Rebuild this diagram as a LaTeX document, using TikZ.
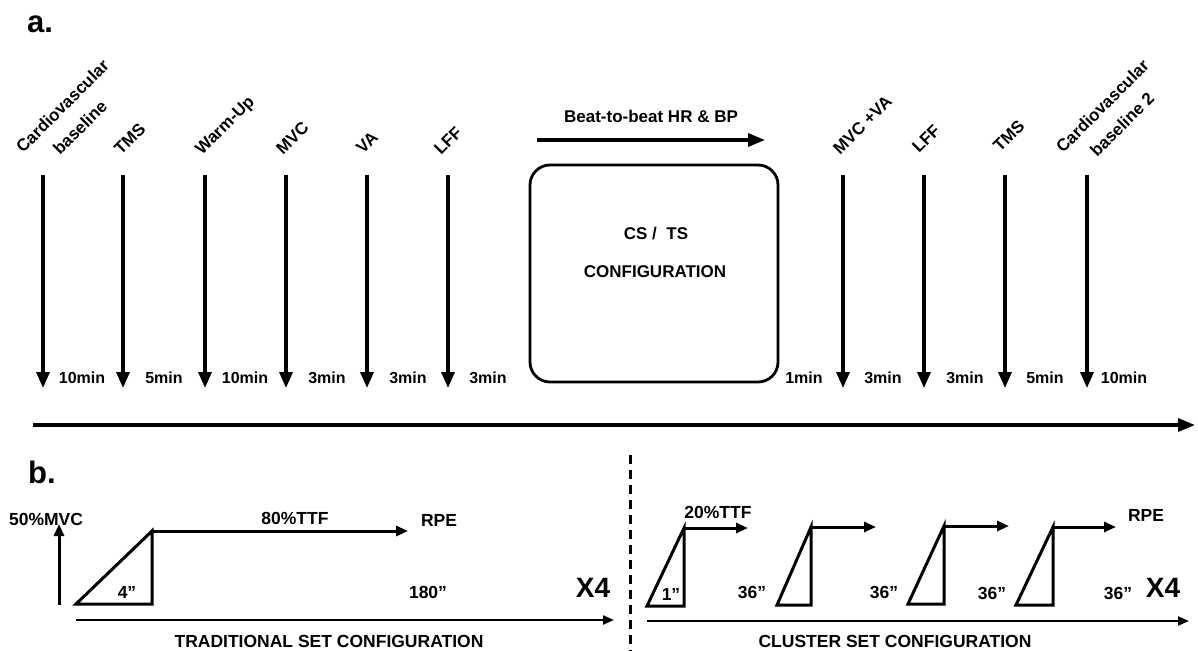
\documentclass[tikz,border=0pt]{standalone}
\usepackage{fontspec}
\setmainfont{Liberation Sans}
\usetikzlibrary{arrows.meta}
\begin{document}
\begin{tikzpicture}[x=1pt,y=-1pt,
  lbl/.style={font=\fontsize{17}{20}\selectfont\bfseries, inner sep=0pt, anchor=base},
  blbl/.style={font=\fontsize{17.5}{20}\selectfont\bfseries, inner sep=0pt, anchor=base},
  rot/.style={font=\fontsize{17}{20}\selectfont\bfseries, inner sep=0pt, rotate=45, anchor=base west},
  mins/.style={font=\fontsize{16}{19}\selectfont\bfseries, inner sep=0pt, anchor=base},
  panel/.style={font=\fontsize{31}{36}\selectfont\bfseries, inner sep=0pt, anchor=base west},
  xfour/.style={font=\fontsize{28}{32}\selectfont\bfseries, inner sep=0pt, anchor=base},
  varrow/.style={line width=3.3pt, -{Triangle[length=16pt,width=13pt]}},
  longarrow/.style={line width=3.3pt, -{Triangle[length=17pt,width=13pt]}},
  smallarrow/.style={line width=3pt, -{Triangle[length=12pt,width=10pt]}},
  basearrow/.style={line width=2.2pt, -{Triangle[length=11pt,width=9pt]}},
  tri/.style={line width=3pt, line join=miter},
  cfgbox/.style={draw, line width=2.8pt, rounded corners=20pt, minimum width=248pt, minimum height=217pt, inner sep=0pt},
  sep/.style={line width=3pt, dash pattern=on 9pt off 6pt}
]
\useasboundingbox (0,0) rectangle (1198,650);

% ---------- panel a ----------
\node[panel] (pa) at (27,33) {a.};

\foreach \x [count=\i] in {43,123,205,286,367,448,843,924,1005,1087} {
  \coordinate (vt\i) at (\x,175);
  \coordinate (vb\i) at (\x,388);
  \draw[varrow] (vt\i) -- (vb\i);
}

\node[rot] (l1a) at (23,154) {Cardiovascular};
\node[rot] (l1b) at (60,156) {baseline};
\node[rot] (l2) at (121,156) {TMS};
\node[rot] (l3) at (202,156) {Warm-Up};
\node[rot] (l4) at (283,156) {MVC};
\node[rot] (l5) at (363,155) {VA};
\node[rot] (l6) at (441,156) {LFF};
\node[rot] (l7) at (840,156) {MVC +VA};
\node[rot] (l8) at (919,154) {LFF};
\node[rot] (l9) at (1000,153) {TMS};
\node[rot] (l10a) at (1063,154) {Cardiovascular};
\node[rot] (l10b) at (1097,158) {baseline 2};

\node[mins] (m1) at (82,383) {10min};
\node[mins] (m2) at (164,383) {5min};
\node[mins] (m3) at (245,383) {10min};
\node[mins] (m4) at (327,383) {3min};
\node[mins] (m5) at (408,383) {3min};
\node[mins] (m6) at (488,383) {3min};
\node[mins] (m7) at (804,383) {1min};
\node[mins] (m8) at (883,383) {3min};
\node[mins] (m9) at (965,383) {3min};
\node[mins] (m10) at (1045,383) {5min};
\node[mins] (m11) at (1124,383) {10min};

\node[lbl] (beat) at (651,122) {Beat-to-beat HR \& BP};
\coordinate (bA) at (537,140);
\coordinate (bB) at (765,140);
\draw[longarrow] (bA) -- (bB);

\node[cfgbox] (box) at (654,273.5) {};
\node[lbl] (cs) at (656,239) {CS /\ \ TS};
\node[lbl] (cfg) at (655,277) {CONFIGURATION};

\coordinate (tlA) at (33,425);
\coordinate (tlB) at (1195,425);
\draw[longarrow] (tlA) -- (tlB);

% ---------- panel b ----------
\node[panel] (pb) at (28,483) {b.};

\coordinate (upA) at (59,605);
\coordinate (upB) at (59,524);
\draw[smallarrow] (upA) -- (upB);
\node[blbl] (mvc) at (46,525) {50\%MVC};

\coordinate (t0a) at (76,604);
\coordinate (t0b) at (152,531);
\coordinate (t0c) at (152,604);
\draw[tri] (t0a) -- (t0b) -- (t0c) -- cycle;
\coordinate (t0e) at (408,531);
\draw[smallarrow] (t0b) -- (t0e);
\node[blbl] (ttf80) at (295,524) {80\%TTF};
\node[blbl] (rpe1) at (439,526) {RPE};
\node[blbl] (s4) at (127,598) {4''};
\node[blbl] (s180) at (428,598) {180''};
\node[xfour] (x4a) at (593,597) {X4};

\coordinate (trA) at (76,620);
\coordinate (trB) at (614,620);
\draw[basearrow] (trA) -- (trB);
\node[blbl] (trad) at (329,647) {TRADITIONAL SET CONFIGURATION};

\coordinate (dT) at (630,455);
\coordinate (dB) at (630,652);
\draw[sep] (dT) -- (dB);

% cluster
\coordinate (c1a) at (647,606);
\coordinate (c1b) at (684,528);
\coordinate (c1c) at (684,606);
\draw[tri] (c1a) -- (c1b) -- (c1c) -- cycle;
\coordinate (c1e) at (748,528);
\draw[smallarrow] (c1b) -- (c1e);

\coordinate (c2a) at (777,605);
\coordinate (c2b) at (811,527);
\coordinate (c2c) at (811,605);
\draw[tri] (c2a) -- (c2b) -- (c2c) -- cycle;
\coordinate (c2e) at (876,527);
\draw[smallarrow] (c2b) -- (c2e);

\coordinate (c3a) at (908,604);
\coordinate (c3b) at (944,526);
\coordinate (c3c) at (944,604);
\draw[tri] (c3a) -- (c3b) -- (c3c) -- cycle;
\coordinate (c3e) at (1009,526);
\draw[smallarrow] (c3b) -- (c3e);

\coordinate (c4a) at (1016,605);
\coordinate (c4b) at (1053,527);
\coordinate (c4c) at (1053,605);
\draw[tri] (c4a) -- (c4b) -- (c4c) -- cycle;
\coordinate (c4e) at (1116,527);
\draw[smallarrow] (c4b) -- (c4e);

\node[blbl] (ttf20) at (718,518) {20\%TTF};
\node[blbl] (s1) at (671,600) {1''};
\node[blbl] (s36a) at (752,598) {36''};
\node[blbl] (s36b) at (884,598) {36''};
\node[blbl] (s36c) at (992,599) {36''};
\node[blbl] (s36d) at (1118,599) {36''};
\node[blbl] (rpe2) at (1146,521) {RPE};
\node[xfour] (x4b) at (1163,597) {X4};

\coordinate (clA) at (647,621);
\coordinate (clB) at (1189,621);
\draw[basearrow] (clA) -- (clB);
\node[blbl] (clus) at (895,647) {CLUSTER SET CONFIGURATION};
\end{tikzpicture}
\end{document}
